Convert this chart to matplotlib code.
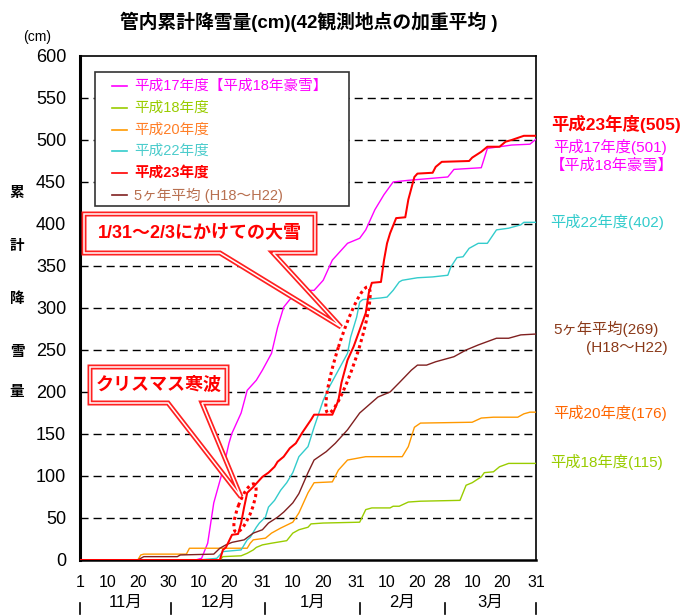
import math
import matplotlib
matplotlib.use("Agg")
import matplotlib.pyplot as plt
from matplotlib.transforms import Affine2D, blended_transform_factory
from matplotlib.patches import Rectangle, Ellipse, PathPatch
from matplotlib.path import Path
from matplotlib.lines import Line2D

plt.rcParams['font.family'] = ['Liberation Sans', 'Noto Sans CJK JP', 'DejaVu Sans']

# ---------------- data (day 0 = Nov 1, day 150 = Mar 31) ----------------
days_h17 = [0, 38, 40, 42, 44, 47, 49, 50, 53, 55, 58, 60, 63, 65, 67, 69, 73, 77, 80, 83,
            88, 92, 94, 97, 100, 103, 108, 121, 123, 132, 134, 142, 148, 150]
vals_h17 = [0, 0, 2, 20, 68, 107, 139, 151, 175, 202, 214, 226, 246, 277, 301, 310, 321, 321, 333, 357,
            377, 383, 393, 417, 435, 450, 452, 456, 465, 467, 490, 494, 495, 501]

days_h18 = [0, 46, 47, 53, 55, 57, 58, 60, 63, 68, 70, 72, 75, 76, 80, 92, 94, 96, 102, 103,
            105, 108, 112, 125, 127, 129, 132, 133, 136, 138, 141, 150]
vals_h18 = [0, 0, 4, 5, 8, 12, 15, 18, 20, 23, 32, 36, 39, 43, 44, 45, 60, 62, 62, 64,
            64, 69, 70, 71, 89, 92, 99, 104, 105, 111, 115, 115]

days_h20 = [0, 19, 20, 21, 35, 36, 55, 56, 57, 61, 63, 66, 70, 72, 75, 77, 83, 85, 88, 94,
            106, 108, 110, 112, 129, 132, 136, 144, 146, 148, 150]
vals_h20 = [0, 0, 6, 7, 7, 14, 14, 20, 24, 26, 32, 38, 45, 56, 80, 92, 93, 107, 119, 123,
            123, 135, 158, 163, 164, 169, 170, 170, 174, 176, 176]

days_h22 = [0, 39, 45, 47, 53, 55, 56, 58, 59, 61, 62, 64, 66, 68, 70, 72, 75, 77, 80, 82,
            85, 88, 89, 91, 92, 93, 99, 101, 103, 105, 106, 111, 116, 121, 122, 124, 126, 128, 131, 134,
            137, 141, 145, 146, 150]
vals_h22 = [0, 0, 2, 10, 12, 24, 27, 39, 44, 51, 63, 71, 83, 92, 104, 123, 135, 158, 190, 206,
            226, 246, 265, 289, 307, 310, 312, 313, 321, 331, 333, 336, 337, 339, 349, 360, 361, 371, 377, 377,
            393, 395, 399, 402, 402]

days_h23 = [0, 46, 47, 48, 50, 52, 53, 54, 55, 57, 59, 60, 62, 64, 65, 67, 69, 71, 73, 76,
            77, 83, 85, 86, 88, 90, 92, 94, 95, 96, 99, 100, 101, 102, 104, 107, 108, 110, 111, 116,
            117, 119, 128, 129, 132, 134, 138, 140, 142, 146, 150]
vals_h23 = [0, 0, 12, 15, 30, 31, 44, 63, 80, 87, 95, 99, 104, 111, 117, 123, 133, 139, 151, 167,
            173, 173, 190, 211, 238, 254, 274, 294, 318, 330, 331, 357, 377, 389, 407, 408, 429, 456, 460, 461,
            468, 474, 475, 479, 486, 492, 492, 498, 500, 505, 505]

days_avg = [0, 19, 20, 21, 32, 33, 44, 46, 48, 50, 54, 57, 60, 62, 65, 67, 70, 72, 75, 77,
            81, 84, 88, 92, 98, 102, 105, 109, 111, 114, 117, 123, 127, 131, 134, 137, 141, 145, 150]
vals_avg = [0, 0, 2, 4, 4, 6, 7, 14, 18, 21, 24, 32, 36, 44, 51, 57, 68, 79, 104, 119,
            129, 139, 155, 175, 194, 200, 211, 226, 232, 232, 236, 242, 250, 256, 260, 264, 264, 268, 269]

legend_labels = ['平成17年度【平成18年豪雪】', '平成18年度', '平成20年度', '平成22年度',
                 '平成23年度', '5ヶ年平均 (H18～H22)']
end_labels = ['平成23年度(505)', '平成17年度(501)', '【平成18年豪雪】', '平成22年度(402)',
              '5ヶ年平均(269)', '(H18～H22)', '平成20年度(176)', '平成18年度(115)']

xtick_days = [0, 9, 19, 29, 39, 49, 60, 70, 80, 91, 101, 111, 119, 129, 139, 150]
xtick_labels = ['1', '10', '20', '30', '10', '20', '31', '10', '20', '31', '10', '20', '28', '10', '20', '31']
month_names = ['11月', '12月', '1月', '2月', '3月']
month_starts = [0, 30, 61, 92, 120, 150]
yticks = [0, 50, 100, 150, 200, 250, 300, 350, 400, 450, 500, 550, 600]

# ---------------- figure ----------------
W, H = 691, 615
fig = plt.figure(figsize=(W / 100, H / 100), dpi=100)
PX = Affine2D().scale(1 / W, -1 / H).translate(0, 1) + fig.transFigure  # pixel coords, y down

L, R, T, B = 80, 536, 56, 560
ax = fig.add_axes([L / W, 1 - B / H, (R - L) / W, (B - T) / H])
ax.set_xlim(0, 150)
ax.set_ylim(0, 600)

for yv in yticks[1:-1]:
    ax.axhline(yv, color='black', lw=1.0, dashes=(5.8, 3.6), zorder=1)

series = [
    (days_h17, vals_h17, '#FF00FF', 1.0),
    (days_h18, vals_h18, '#99CC00', 1.0),
    (days_h20, vals_h20, '#FF9900', 1.0),
    (days_h22, vals_h22, '#33CCCC', 1.0),
    (days_avg, vals_avg, '#802020', 1.0),
    (days_h23, vals_h23, '#FF0000', 1.45),
]
for d, v, c, lw in series:
    ax.plot(d, v, color=c, lw=lw, zorder=3, solid_joinstyle='round')

for s in ['top', 'right']:
    ax.spines[s].set_linewidth(1.2)
ax.spines['left'].set_linewidth(2.2)
ax.spines['bottom'].set_linewidth(1.8)

ax.set_yticks(yticks)
ax.set_yticklabels([str(t) for t in yticks], fontsize=13)
ax.tick_params(axis='y', length=0, pad=10)
ax.set_xticks(xtick_days)
ax.set_xticklabels(xtick_labels, fontsize=11.5)
ax.tick_params(axis='x', length=0, pad=10.5)

# month labels and separators
bt = blended_transform_factory(ax.transData, PX)
for i, m in enumerate(month_names):
    cx = (month_starts[i] + month_starts[i + 1]) / 2
    ax.text(cx, 602, m, transform=bt, ha='center', va='center', fontsize=12, clip_on=False)
for ms in month_starts:
    ax.add_line(Line2D([ms, ms], [603, 614], transform=bt, color='black', lw=1.2, clip_on=False))

# title and axis labels
fig.text(309 / W, 1 - 22 / H, '管内累計降雪量(cm)(42観測地点の加重平均 )', ha='center', va='center',
         fontsize=13.5, fontweight='bold')
fig.text(37 / W, 1 - 37 / H, '(cm)', ha='center', va='center', fontsize=10)
for ch, yy in zip('累計降雪量', [193, 246, 299, 352, 392]):
    fig.text(17 / W, 1 - yy / H, ch, ha='center', va='center', fontsize=10.5, fontweight='bold')

# legend (manual)
fig.add_artist(Rectangle((95, 72), 254, 134, transform=PX, facecolor='white', edgecolor='#333333',
                         lw=1.2, zorder=4))
leg_line_colors = ['#FF00FF', '#99CC00', '#FF9900', '#33CCCC', '#FF0000', '#802020']
leg_text_colors = ['#FF00FF', '#99CC00', '#FF7F27', '#4CCCCC', '#FF0000', '#B87050']
rows_y = [86, 108, 130, 151, 173, 195]
for lab, lc, tc, yy in zip(legend_labels, leg_line_colors, leg_text_colors, rows_y):
    fig.add_artist(Line2D([112, 127], [yy, yy], transform=PX, color=lc, lw=1.2, zorder=5))
    fig.text(134 / W, 1 - yy / H, lab, ha='left', va='center', fontsize=10.5, color=tc,
             fontweight='bold' if lab == '平成23年度' else 'normal', zorder=5)

# end labels
end_specs = [
    (551, 124, '#FF0000', 12.5, 'bold'),
    (553, 147, '#FF00FF', 11, 'normal'),
    (550, 166, '#FF00FF', 11, 'normal'),
    (550, 222, '#33CCCC', 11, 'normal'),
    (553, 329, '#8B3A1A', 11, 'normal'),
    (586, 348, '#8B3A1A', 11, 'normal'),
    (553, 413, '#FF6600', 11, 'normal'),
    (550, 462, '#99CC00', 11, 'normal'),
]
for lab, (xx, yy, c, fs, fw) in zip(end_labels, end_specs):
    fig.text(xx / W, 1 - yy / H, lab, ha='left', va='center', fontsize=fs, color=c, fontweight=fw)

# callouts
def callout(box, base, tip, text, fs):
    x0, y0, x1, y1 = box
    bl, br = base
    verts = [(x0, y0), (x1, y0), (x1, y1), (br, y1), tip, (bl, y1), (x0, y1), (x0, y0)]
    codes = [Path.MOVETO] + [Path.LINETO] * 6 + [Path.CLOSEPOLY]
    p = Path(verts, codes)
    fig.add_artist(PathPatch(p, transform=PX, facecolor='white', edgecolor='#FF2020', lw=3.6,
                             joinstyle='miter', zorder=6))
    fig.add_artist(PathPatch(p, transform=PX, facecolor='none', edgecolor='white', lw=1.1,
                             joinstyle='miter', zorder=6))
    fig.text(((x0 + x1) / 2) / W, 1 - ((y0 + y1) / 2) / H, text, ha='center', va='center',
             fontsize=fs, fontweight='bold', color='#FF0000', zorder=7)

callout((84, 214, 315, 253), (220, 273), (341, 327), '1/31～2/3にかけての大雪', 13)
callout((90, 367, 227, 403), (168, 202), (241, 497), 'クリスマス寒波', 13)

def dotted_ellipse(p0, p1, minor):
    cx, cy = (p0[0] + p1[0]) / 2, (p0[1] + p1[1]) / 2
    length = math.hypot(p1[0] - p0[0], p1[1] - p0[1])
    ang = math.degrees(math.atan2(p1[1] - p0[1], p1[0] - p0[0]))
    fig.add_artist(Ellipse((cx, cy), length, minor, angle=ang, transform=PX, facecolor='none',
                           edgecolor='#FF0000', lw=2.2, linestyle=(0, (1, 1.1)), zorder=6))

dotted_ellipse((328, 413), (368, 287), 20)
dotted_ellipse((236, 532), (254, 484), 14)

fig.savefig('out.png', dpi=100)
